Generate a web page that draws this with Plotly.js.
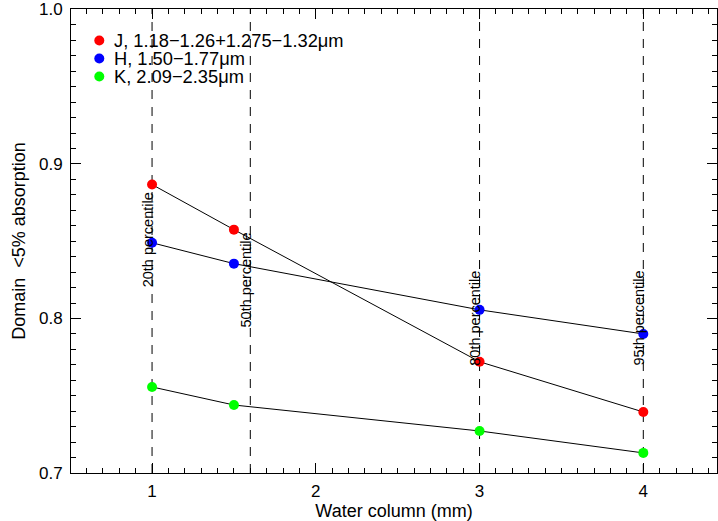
<!DOCTYPE html>
<html>
<head>
<meta charset="utf-8">
<script src="https://cdn.plot.ly/plotly-3.0.1.min.js"></script>
<style>html,body{margin:0;padding:0;background:#fff}#chart{width:718px;height:521px}</style>
</head>
<body>
<div id="chart"></div>
<script>
// ---- data ----
const waterColumn = [1, 1.5, 3, 4];
const seriesNames = ["J, 1.18\u22121.26+1.275\u22121.32\u03bcm", "H, 1.50\u22121.77\u03bcm", "K, 2.09\u22122.35\u03bcm"];
const seriesColors = ["#ff0000", "#0000ff", "#00ff00"];
const jValues = [0.8867, 0.8575, 0.7720, 0.7395];
const hValues = [0.8490, 0.8355, 0.8056, 0.7900];
const kValues = [0.7557, 0.7440, 0.7272, 0.7130];
const percentileX = [1, 1.6, 3, 4];
const percentileLabels = ["20th percentile", "50th percentile", "80th percentile", "95th percentile"];
const xTickVals = [1, 2, 3, 4];
const yTickVals = [0.7, 0.8, 0.9, 1.0];

const allValues = [jValues, hValues, kValues];
const FONT = "Liberation Sans, Arial, Helvetica, sans-serif";

const W = 718, H = 521;
const M = {l: 71, r: 1, t: 9, b: 48};
const PW = W - M.l - M.r, PH = H - M.t - M.b;
const px2paperX = p => (p - M.l) / PW;
const px2paperY = p => 1 - (p - M.t) / PH;

const traces = allValues.map((vals, i) => ({
  x: waterColumn, y: vals, type: 'scatter', mode: 'lines+markers',
  line: {color: '#000', width: 1},
  marker: {color: seriesColors[i], size: 10, line: {width: 0}},
  showlegend: false, cliponaxis: false
}));

const shapes = percentileX.map(v => ({
  type: 'line', xref: 'x', yref: 'paper', x0: v, x1: v, y0: 0, y1: 1,
  line: {color: '#000', width: 1, dash: '9px,8px'}, layer: 'below'
}));

// label placement (layout)
const labelY = [0.8506, 0.8248, 0.8002, 0.8002];
const annotations = percentileLabels.map((t, i) => ({
  x: percentileX[i], y: labelY[i], xref: 'x', yref: 'y', text: t, showarrow: false,
  textangle: -90, xanchor: 'center', yanchor: 'middle', xshift: -4,
  font: {family: FONT, size: 14.5, color: '#000'}
}));

// legend (layout)
const legTextX = 111.5, legMarkX = 99.3, legY0 = 40.5, legStep = 18;
seriesNames.forEach((n, i) => {
  const yp = legY0 + i * legStep;
  annotations.push({
    x: px2paperX(legTextX), y: px2paperY(yp), xref: 'paper', yref: 'paper',
    text: n, showarrow: false, xanchor: 'left', yanchor: 'middle',
    font: {family: FONT, size: 18.3, color: '#000'}
  });
  shapes.push({
    type: 'circle', xref: 'paper', yref: 'paper', xsizemode: 'pixel', ysizemode: 'pixel',
    xanchor: px2paperX(legMarkX), yanchor: px2paperY(yp),
    x0: -5, x1: 5, y0: -5, y1: 5,
    fillcolor: seriesColors[i], line: {width: 0}, layer: 'above'
  });
});

const axisCommon = {
  showgrid: false, zeroline: false, showline: true, linecolor: '#000', linewidth: 1,
  mirror: 'allticks', ticks: 'inside', ticklen: 10, tickwidth: 1, tickcolor: '#000',
  tickfont: {family: FONT, size: 17, color: '#000'}
};

const layout = {
  width: W, height: H, margin: M,
  paper_bgcolor: '#fff', plot_bgcolor: '#fff',
  font: {family: FONT, color: '#000'},
  showlegend: false,
  xaxis: Object.assign({}, axisCommon, {
    range: [0.505, 4.45], tickmode: 'array', tickvals: xTickVals, ticktext: xTickVals.map(String),
    ticklabelstandoff: 3,
    minor: {dtick: 0.1, ticks: 'inside', ticklen: 5, tickcolor: '#000', tickwidth: 1, showgrid: false},
    title: {text: 'Water column (mm)', font: {family: FONT, size: 18, color: '#000'}, standoff: 9}
  }),
  yaxis: Object.assign({}, axisCommon, {
    range: [0.7, 1.0003], tickmode: 'array', tickvals: yTickVals, ticktext: yTickVals.map(v => v.toFixed(1)),
    ticklabelstandoff: 4, ticklabeloverflow: 'allow',
    minor: {dtick: 0.01, tick0: 0.7, ticks: 'inside', ticklen: 5, tickcolor: '#000', tickwidth: 1, showgrid: false},
    title: {text: 'Domain\u00a0 &lt;5% absorption', font: {family: FONT, size: 18, color: '#000'}, standoff: 8}
  }),
  shapes: shapes,
  annotations: annotations
};

Plotly.newPlot('chart', traces, layout, {displayModeBar: false, staticPlot: true});
</script>
</body>
</html>
